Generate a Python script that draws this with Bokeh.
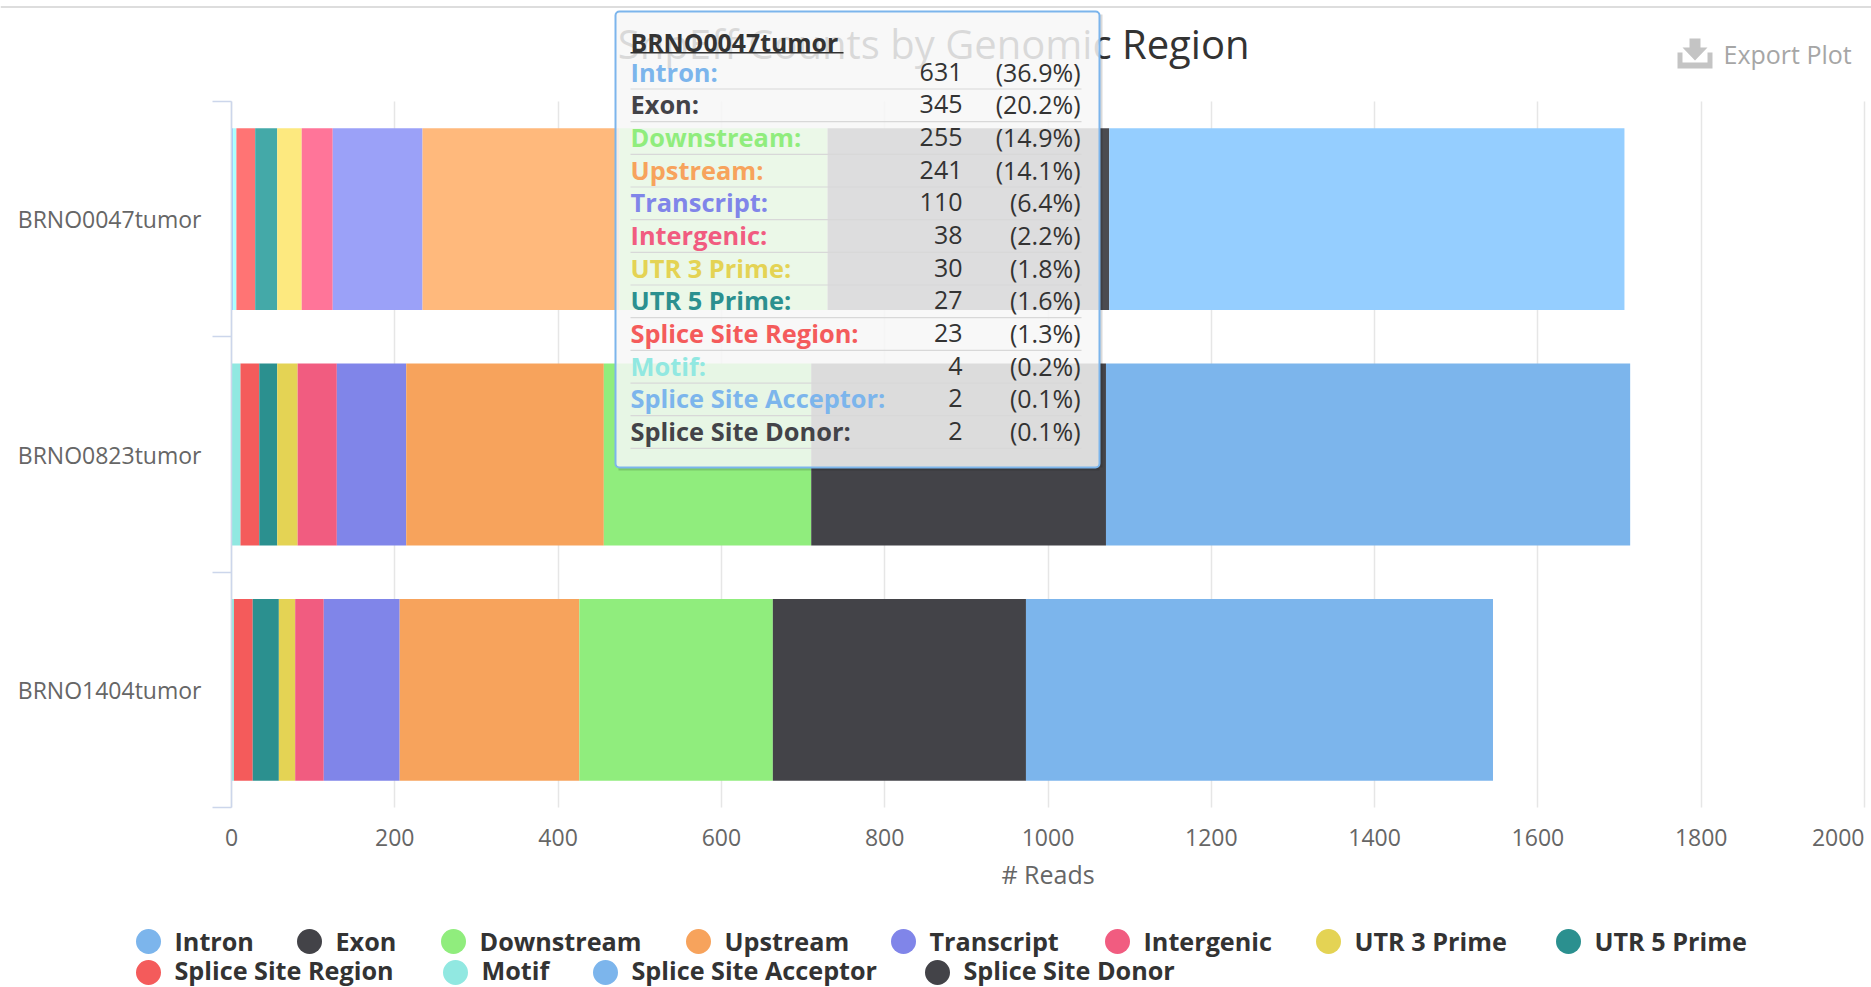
from bokeh.plotting import figure
from bokeh.embed import file_html
from bokeh.resources import INLINE
from bokeh.models import (BoxAnnotation, PolyAnnotation, Label, FixedTicker, ColumnDataSource)

W, H = 1871, 987
FONT = "Open Sans"

samples = ["BRNO0047tumor", "BRNO0823tumor", "BRNO1404tumor"]
series = ["Intron", "Exon", "Downstream", "Upstream", "Transcript", "Intergenic",
          "UTR 3 Prime", "UTR 5 Prime", "Splice Site Region", "Motif",
          "Splice Site Acceptor", "Splice Site Donor"]
colors = ["#7cb5ec", "#434348", "#90ed7d", "#f7a35c", "#8085e9", "#f15c80",
          "#e4d354", "#2b908f", "#f45b5b", "#91e8e1", "#7cb5ec", "#434348"]
hover_colors = ["#95ceff", "#4b4b50", "#a9ff96", "#ffb97c", "#9ba1f8", "#ff7599",
                "#fde97f", "#44a9a8", "#ff7474", "#aaffff", "#95ceff", "#5c5c61"]
brno0047 = [631, 345, 255, 241, 110, 38, 30, 27, 23, 4, 2, 2]
brno0823 = [642, 361, 254, 242, 85, 48, 25, 22, 23, 11, 0, 0]
brno1404 = [572, 310, 237, 220, 93, 35, 20, 32, 23, 3, 0, 0]
percent0047 = ["(36.9%)", "(20.2%)", "(14.9%)", "(14.1%)", "(6.4%)", "(2.2%)",
               "(1.8%)", "(1.6%)", "(1.3%)", "(0.2%)", "(0.1%)", "(0.1%)"]
x_ticks = [0, 200, 400, 600, 800, 1000, 1200, 1400, 1600, 1800, 2000]

# plot area in page pixels: the frame fills the whole canvas, the ranges place the data
PX0, PX1, PY0, PY1 = 231.0, 1864.0, 101.0, 807.0
kx = (PX1 - PX0) / 2000.0
ky = (PY1 - PY0) / 3.0

p = figure(width=W, height=H, output_backend="svg", toolbar_location=None,
           x_range=(-PX0 / kx, (W - PX0) / kx),
           y_range=(-(H - PY1) / ky, 3 + PY0 / ky),
           min_border=0,
           outline_line_color=None, background_fill_color="white", border_fill_color="white")

# stacked bars, last series nearest the axis; the reference shows no Splice Site Donor segment
rows = [brno0047, brno0823, brno1404]
ypos = [2.5, 1.5, 0.5]
left = [0, 0, 0]
for k in range(len(series) - 2, -1, -1):
    vals = [r[k] for r in rows]
    right = [a + b for a, b in zip(left, vals)]
    src = ColumnDataSource(dict(y=ypos, left=left, right=right,
                                color=[hover_colors[k], colors[k], colors[k]]))
    p.hbar(y="y", left="left", right="right", height=0.773, fill_color="color",
           line_color=None, source=src, name=series[k])
    left = right

# axes
p.xaxis.fixed_location = 0
p.xaxis.bounds = (0, 2000)
p.xaxis.ticker = FixedTicker(ticks=x_ticks)
p.xaxis.major_label_overrides = {2000: ""}
p.xaxis.axis_line_color = None
p.xaxis.major_tick_line_color = None
p.xaxis.minor_tick_line_color = None
p.xaxis.major_label_text_font = FONT
p.xaxis.major_label_text_font_size = "23px"
p.xaxis.major_label_text_color = "#666666"
p.xaxis.major_label_standoff = 15
p.xaxis.axis_label = "# Reads"
p.xaxis.axis_label_text_font = FONT
p.xaxis.axis_label_text_font_size = "25px"
p.xaxis.axis_label_text_font_style = "normal"
p.xaxis.axis_label_text_color = "#666666"
p.xaxis.axis_label_standoff = 8

p.yaxis.fixed_location = 0
p.yaxis.bounds = (0, 3)
p.yaxis.ticker = FixedTicker(ticks=ypos, minor_ticks=[0, 1, 2, 3])
p.yaxis.major_label_overrides = {y: s for y, s in zip(ypos, samples)}
p.yaxis.axis_line_color = "#ccd6eb"
p.yaxis.axis_line_width = 1.5
p.yaxis.major_tick_line_color = None
p.yaxis.minor_tick_line_color = "#ccd6eb"
p.yaxis.minor_tick_line_width = 1.5
p.yaxis.minor_tick_out = 19
p.yaxis.minor_tick_in = 0
p.yaxis.major_label_text_font = FONT
p.yaxis.major_label_text_font_size = "23px"
p.yaxis.major_label_text_color = "#666666"
p.yaxis.major_label_standoff = 11

p.ygrid.visible = False
p.xgrid.ticker = FixedTicker(ticks=x_ticks)
p.xgrid.bounds = (0, 2000)
p.xgrid.cross_bounds = (0, 3)
p.xgrid.grid_line_color = "#e6e6e6"
p.xgrid.grid_line_width = 1.5


def label(x, y, text, size, color, style="normal", align="left", level="overlay"):
    p.add_layout(Label(x=x, y=y, x_units="canvas", y_units="canvas", text=text,
                       text_font=FONT, text_font_size=f"{size}px", text_color=color,
                       text_font_style=style, text_align=align, text_baseline="middle",
                       level=level))


def box(l, r, t, b, fill, alpha=1.0, line=None, lw=0, radius=0, level="overlay"):
    p.add_layout(BoxAnnotation(left=l, right=r, top=t, bottom=b,
                               left_units="canvas", right_units="canvas",
                               top_units="canvas", bottom_units="canvas",
                               fill_color=fill, fill_alpha=alpha, line_color=line,
                               line_alpha=1.0, line_width=lw, border_radius=radius,
                               level=level, editable=False))


def poly(xs, ys, fill, alpha=1.0, level="annotation"):
    p.add_layout(PolyAnnotation(xs=xs, ys=ys, xs_units="canvas", ys_units="canvas",
                                fill_color=fill, fill_alpha=alpha, line_color=None,
                                level=level, editable=False))


# title
label(1249, 43, "SnpEff Counts by Genomic Region", 40, "#333333", align="right", level="annotation")

# top rule of the page
box(0, W, 5.5, 7.5, "#dddddd", level="annotation")

# 2000 tick label is pushed inward
label(1864, 837, str(x_ticks[-1]), 23, "#666666", align="right", level="annotation")

# export button
poly([1677, 1682, 1682, 1707, 1707, 1712, 1712, 1677], [52, 52, 62, 62, 52, 52, 68, 68], "#c4c4c4")
poly([1689, 1700, 1700, 1707, 1694.5, 1682, 1689], [38, 38, 47, 47, 60, 47, 47], "#c4c4c4")
label(1723, 53, "Export Plot", 25, "#a6a6a6", level="annotation")

# legend
legend_row1 = [148, 309, 453, 698, 903, 1117, 1328, 1568]
legend_row2 = [148, 455, 605, 937]
for i, name in enumerate(series):
    cx, cy, ty = (legend_row1[i], 941, 940) if i < 8 else (legend_row2[i - 8], 972, 969.5)
    box(cx - 12.5, cx + 12.5, cy - 12.5, cy + 12.5, colors[i], radius=13, level="annotation")
    label(cx + 26, ty, name, 25.2, "#333333", style="bold", level="annotation")

# tooltip: shadow rim, body, heading, rows
poly([618, 1102, 1102, 1099, 1099, 618], [467, 467, 14, 14, 470, 470], "#000000", alpha=0.15, level="overlay")
box(615, 1099, 11, 467, "#f7f7f7", alpha=0.85, line="#7cb5ec", lw=2, radius=4)
label(630, 41, samples[0], 24.8, "#333333", style="bold")
box(630, 843, 51.5, 53, "#333333")
for i, name in enumerate(series):
    yc = 72.7 + 32.67 * i
    label(630, yc - 1.5, name + ":", 25.4, colors[i], style="bold")
    label(962, yc - 1.5, str(brno0047[i]), 25, "#333333", align="right")
    label(1080, yc - 1.5, percent0047[i], 25, "#333333", align="right")
    box(630, 1081, yc + 15.2, yc + 16.4, "#d8d8d8")

open("out.html", "w").write(file_html(p, INLINE))
